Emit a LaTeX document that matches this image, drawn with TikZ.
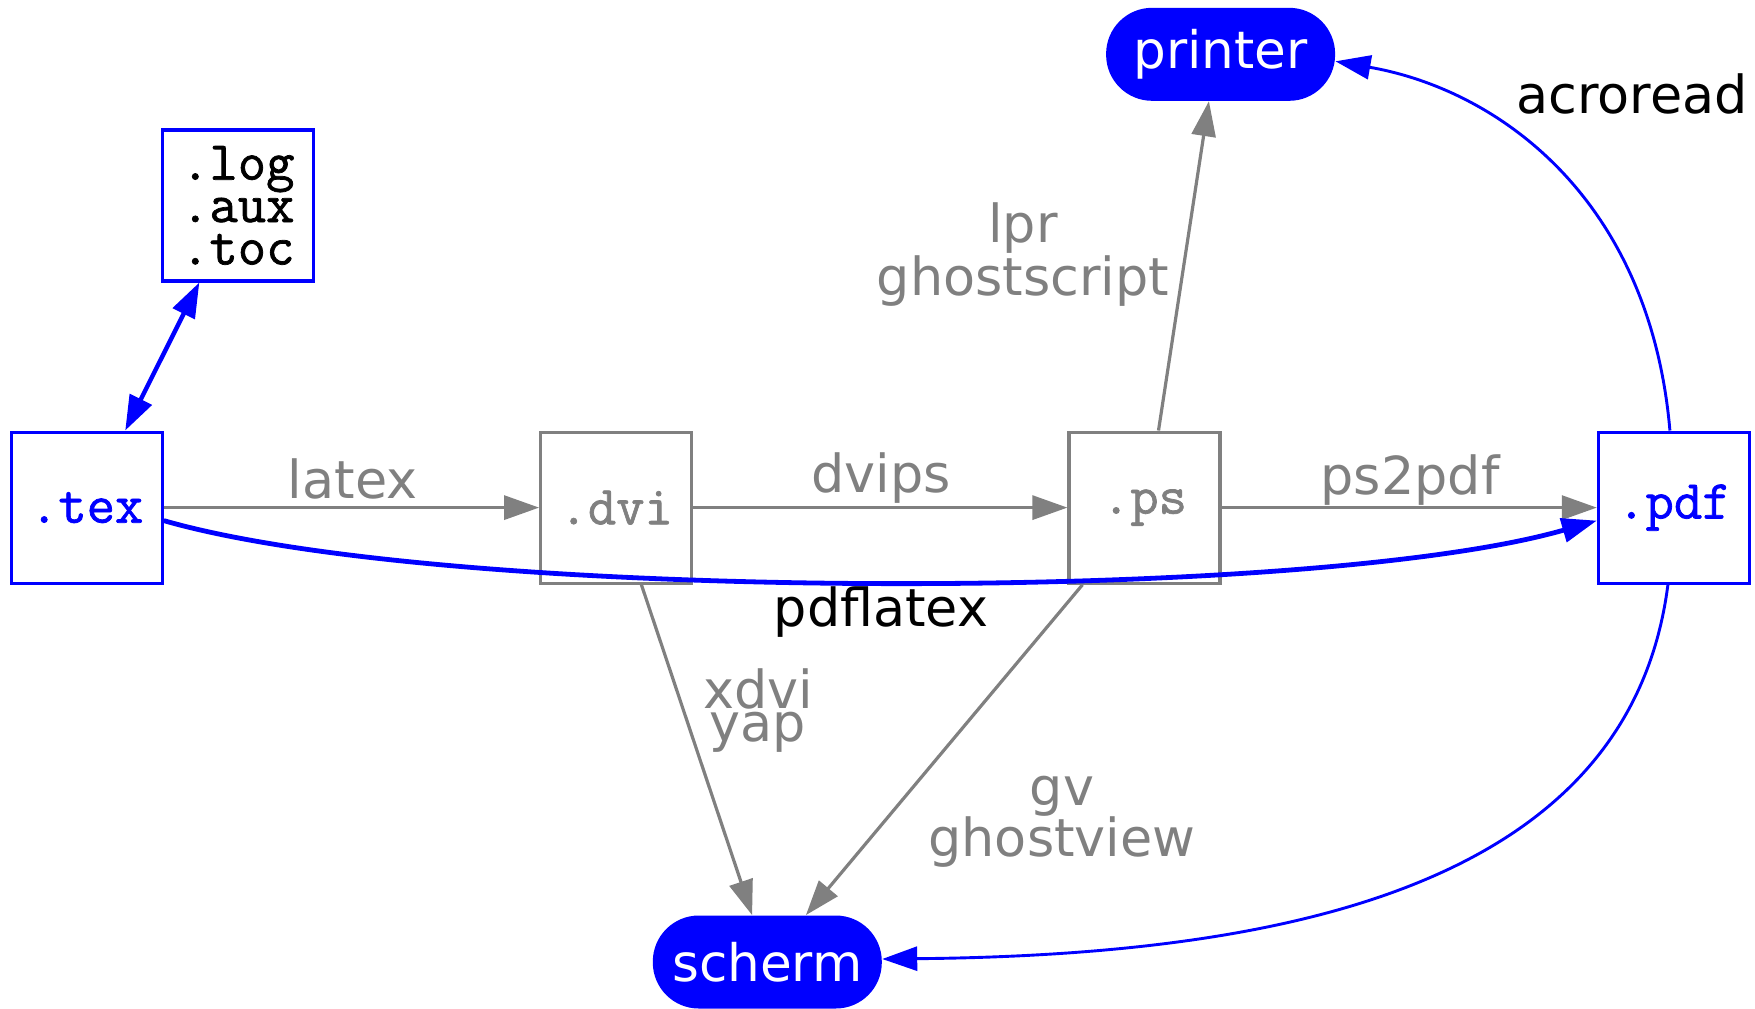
\documentclass[tikz,border=0pt]{standalone}
\usepackage{fontspec}
\newfontfamily\labfont{DejaVu Sans}
\newfontfamily\monofont[FakeBold=1.3]{Latin Modern Mono}
\usetikzlibrary{arrows.meta,shapes.misc,calc}
\begin{document}
\begin{tikzpicture}[x=0.5pt,y=-0.5pt,
  fbox/.style={draw, line width=1.6pt, minimum width=75.5pt, minimum height=75.5pt, inner sep=0pt, font=\fontsize{27.5}{20}\monofont},
  bluebox/.style={fbox, draw=blue, text=blue},
  graybox/.style={fbox, draw=gray, text=gray},
  dev/.style={fill=blue, text=white, rounded corners=23pt, minimum width=114.5pt, minimum height=46.5pt, inner sep=0pt, font=\fontsize{25.8}{30}\labfont},
  lab/.style={font=\fontsize{26.2}{27}\labfont, anchor=base, inner sep=0pt},
  mytip/.tip={Triangle[length=17.5pt,width=12pt]},
  grayedge/.style={draw=gray, line width=1.6pt, -{mytip}},
  blueedge/.style={draw=blue, line width=1.45pt, -{mytip}},
]
\useasboundingbox (0,0) rectangle (1755,1008);

% nodes
\node[bluebox] (tex) at (86.7,507.6) {.tex};
\node[bluebox, text=black, align=center, font=\fontsize{27.5}{21.2}\monofont] (aux) at (237.8,205.4) {.log\\.aux\\.toc};
\node[graybox] (dvi) at (616.2,507.6) {.dvi};
\node[graybox] (ps) at (1144.5,507.6) {.ps};
\node[bluebox] (pdf) at (1673.9,507.6) {.pdf};
\node[dev] (printer) at (1220.6,54.3) {printer};
\node[dev] (scherm) at (767.3,962) {scherm};

% labels
\node[lab, text=gray] (llatex) at (352.6,498) {latex};
\node[lab, text=gray] (ldvips) at (881,492) {dvips};
\node[lab, text=gray] (lpstopdf) at (1410,494) {ps2pdf};
\node[lab] (lpdflatex) at (881,626) {pdflatex};
\node[lab] (lacro) at (1632,113) {acroread};
\node[lab, text=gray] (llpr) at (1023,242) {lpr};
\node[lab, text=gray] (lghostscript) at (1023,295) {ghostscript};
\node[lab, text=gray] (lxdvi) at (758,708) {xdvi};
\node[lab, text=gray] (lyap) at (758,741.7) {yap};
\node[lab, text=gray] (lgv) at (1062,805) {gv};
\node[lab, text=gray] (lghostview) at (1062,856.7) {ghostview};

% edges
\draw[grayedge] (tex) -- (dvi);
\draw[grayedge] (dvi) -- (ps);
\draw[grayedge] (ps) -- (pdf);
\draw[grayedge] ([xshift=7pt]ps.north) -- ([xshift=-5.85pt]printer.south);
\draw[grayedge] ([xshift=12.6pt]dvi.south) -- ([xshift=-7.6pt]scherm.north);
\draw[grayedge] ([xshift=-31pt]ps.south) -- ([xshift=19.3pt]scherm.north);
\draw[draw=blue, line width=2.2pt, {mytip}-{mytip}] (tex) -- (aux);
\draw[draw=blue, line width=2.4pt, -{mytip}] ([yshift=-6.5pt]tex.east) .. controls (450,603) and (1310,603) .. ([yshift=-6.5pt]pdf.west);
\draw[blueedge] ([xshift=-2pt]pdf.north) .. controls (1650,200) and (1500,90) .. ([yshift=-3.5pt]printer.east);
\draw[blueedge] ([xshift=-3pt]pdf.south) .. controls (1630,880) and (1300,955) .. ([yshift=1.5pt]scherm.east);
\end{tikzpicture}
\end{document}
